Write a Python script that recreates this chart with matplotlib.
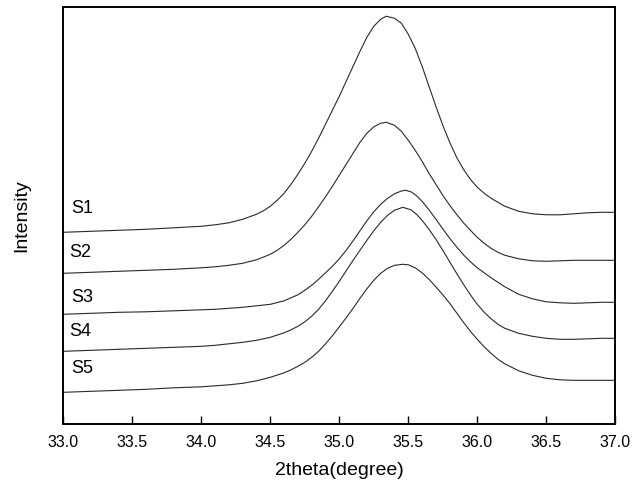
import matplotlib
matplotlib.use("Agg")
import matplotlib.pyplot as plt

plt.rcParams['font.family'] = ['Liberation Sans', 'DejaVu Sans']

# 2theta (degree) and intensity (a.u., stacked with offsets) for each sample
s1_x = [33.00, 33.20, 33.40, 33.60, 33.80, 34.00, 34.10, 34.20, 34.30, 34.40, 34.45, 34.50,
        34.55, 34.60, 34.65, 34.70, 34.75, 34.80, 34.85, 34.90, 34.95, 35.00, 35.05, 35.10,
        35.15, 35.20, 35.25, 35.30, 35.34, 35.40, 35.45, 35.50, 35.55, 35.60, 35.65, 35.70,
        35.75, 35.80, 35.85, 35.90, 35.95, 36.00, 36.05, 36.10, 36.15, 36.20, 36.30, 36.40,
        36.50, 36.60, 36.70, 36.80, 36.90, 37.00]
s1_y = [192, 193, 194, 195, 196.5, 198, 199.5, 201.5, 205, 210, 213.5, 218,
        224, 231, 240, 250, 261, 273, 286, 300, 314, 328, 343, 358,
        373, 387, 398, 405, 408, 406, 401, 390, 376, 358, 338, 318,
        299, 282, 267, 255, 245, 237, 231, 226, 222, 218, 213, 210.5,
        209.5, 209.5, 210.5, 211.5, 212, 212]

s2_x = [33.00, 33.20, 33.40, 33.60, 33.80, 34.00, 34.10, 34.20, 34.30, 34.40, 34.50, 34.55,
        34.60, 34.65, 34.70, 34.75, 34.80, 34.85, 34.90, 34.95, 35.00, 35.05, 35.10, 35.15,
        35.20, 35.25, 35.30, 35.34, 35.40, 35.45, 35.50, 35.55, 35.60, 35.65, 35.70, 35.75,
        35.80, 35.85, 35.90, 35.95, 36.00, 36.05, 36.10, 36.15, 36.20, 36.30, 36.40, 36.50,
        36.60, 36.70, 36.80, 36.90, 37.00]
s2_y = [151, 152, 153, 154, 155, 156.5, 157.5, 159, 161, 164.5, 170, 174,
        179, 185, 192, 199.5, 208, 217.5, 227.5, 238, 249, 260, 271, 282,
        291, 297.5, 301, 302, 299, 293, 284, 274, 263, 251, 240, 229,
        219, 210, 201.5, 194, 187, 181, 176, 172, 169, 165.5, 163.5, 163,
        163.5, 164, 164, 164, 164]

s3_x = [33.00, 33.20, 33.40, 33.60, 33.80, 34.00, 34.10, 34.20, 34.30, 34.40, 34.50, 34.60,
        34.65, 34.70, 34.75, 34.80, 34.85, 34.90, 34.95, 35.00, 35.05, 35.10, 35.15, 35.20,
        35.25, 35.30, 35.35, 35.40, 35.45, 35.48, 35.52, 35.56, 35.60, 35.65, 35.70, 35.75,
        35.80, 35.85, 35.90, 35.95, 36.00, 36.05, 36.10, 36.15, 36.20, 36.30, 36.40, 36.50,
        36.60, 36.70, 36.80, 36.90, 37.00]
s3_y = [110, 111, 112, 112.5, 113.5, 114.5, 115, 116, 117, 118.5, 120, 123.5,
        126.5, 129.5, 134, 139, 145, 151.5, 158, 165.5, 174, 183.5, 193.5, 203.5,
        212.5, 220, 226, 230.5, 233.3, 234, 232.5, 228.5, 223, 214.5, 205, 195.5,
        186, 177.5, 169.5, 162.5, 156.5, 151.5, 146.5, 142, 137.5, 130, 125.5, 122.5,
        121.5, 121, 121.5, 122, 122]

s4_x = [33.00, 33.20, 33.40, 33.60, 33.80, 34.00, 34.10, 34.20, 34.30, 34.40, 34.50, 34.60,
        34.65, 34.70, 34.75, 34.80, 34.85, 34.90, 34.95, 35.00, 35.05, 35.10, 35.15, 35.20,
        35.25, 35.30, 35.35, 35.40, 35.46, 35.52, 35.56, 35.60, 35.65, 35.70, 35.75, 35.80,
        35.85, 35.90, 35.95, 36.00, 36.05, 36.10, 36.15, 36.20, 36.30, 36.40, 36.50, 36.60,
        36.70, 36.80, 36.90, 37.00]
s4_y = [73, 74, 75, 76, 77, 78, 79, 80.5, 82, 84, 87, 91.5,
        94.5, 98, 102.5, 108, 115, 123.5, 133, 143, 153.5, 164, 174, 184,
        193.5, 202, 209, 214, 217, 214.5, 210, 204, 195, 185, 174, 162.5,
        151, 140, 129.5, 120, 112, 105.5, 100, 96, 91, 88, 86, 85,
        85, 85.5, 86, 86]

s5_x = [33.00, 33.20, 33.40, 33.60, 33.80, 34.00, 34.10, 34.20, 34.30, 34.40, 34.50, 34.60,
        34.65, 34.70, 34.75, 34.80, 34.85, 34.90, 34.95, 35.00, 35.05, 35.10, 35.15, 35.20,
        35.25, 35.30, 35.35, 35.40, 35.46, 35.50, 35.55, 35.60, 35.65, 35.70, 35.75, 35.80,
        35.85, 35.90, 35.95, 36.00, 36.05, 36.10, 36.15, 36.20, 36.30, 36.40, 36.50, 36.60,
        36.70, 36.80, 36.90, 37.00]
s5_y = [32, 33, 34, 35, 36.5, 37.5, 38.5, 39.5, 41, 43.5, 47, 51.5,
        54.5, 58, 62, 67, 73, 80.5, 88.5, 97.5, 106.5, 116, 126, 135.5,
        144, 151, 156, 159, 160, 159.5, 156.5, 151.5, 145, 137.5, 129.5, 121,
        111.5, 102, 93, 85, 77.5, 71, 65, 60.5, 53.5, 49, 46, 44.5,
        44, 44, 44, 44]

labels = ["S1", "S2", "S3", "S4", "S5"]
label_x = [33.06, 33.04, 33.06, 33.04, 33.06]
label_y = [216, 172, 127, 93, 56]

xticks = [33.0, 33.5, 34.0, 34.5, 35.0, 35.5, 36.0, 36.5, 37.0]

fig = plt.figure(figsize=(6.33, 4.91), dpi=100)
ax = fig.add_axes([0.1, 0.1358, 0.872, 0.849])

series = [(s1_x, s1_y), (s2_x, s2_y), (s3_x, s3_y), (s4_x, s4_y), (s5_x, s5_y)]
for (xs, ys) in series:
    ax.plot(xs, ys, color="#2a2a2a", linewidth=0.8, solid_joinstyle="round")

for name, lx, ly in zip(labels, label_x, label_y):
    ax.text(lx, ly, name, fontsize=13, ha="left", va="center", color="black")

ax.set_xlim(33.0, 37.0)
ax.set_ylim(0, 416.8)
ax.set_xticks(xticks)
ax.set_xticklabels([f"{t:.1f}" for t in xticks])
ax.set_yticks([])
ax.tick_params(axis="x", direction="in", length=6, width=1.0, pad=8, labelsize=11.5)
for sp in ax.spines.values():
    sp.set_linewidth(1.4)

ax.set_xlabel("2theta(degree)", fontsize=14, labelpad=8)
ax.set_ylabel("Intensity", fontsize=14, labelpad=24)

fig.savefig("out.png", dpi=100)
